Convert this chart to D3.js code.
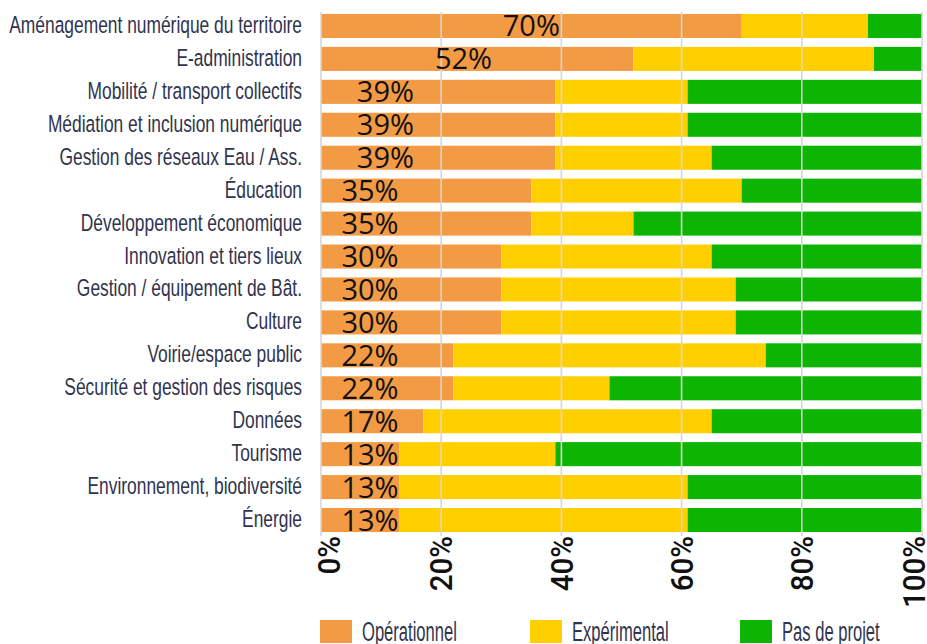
<!DOCTYPE html>
<html lang="fr">
<head>
<meta charset="utf-8">
<script src="https://cdn.jsdelivr.net/npm/d3@7"></script>
<style>
  html, body { margin: 0; padding: 0; background: #fff; }
  svg { display: block; }
</style>
</head>
<body>
<svg id="chart" width="927" height="644"></svg>
<script>
// Thematic areas and their project status shares (%)
const categories = [
  "Aménagement numérique du territoire",
  "E-administration",
  "Mobilité / transport collectifs",
  "Médiation et inclusion numérique",
  "Gestion des réseaux Eau / Ass.",
  "Éducation",
  "Développement économique",
  "Innovation et tiers lieux",
  "Gestion / équipement de Bât.",
  "Culture",
  "Voirie/espace public",
  "Sécurité et gestion des risques",
  "Données",
  "Tourisme",
  "Environnement, biodiversité",
  "Énergie"
];
const operationnel = [70, 52, 39, 39, 39, 35, 35, 30, 30, 30, 22, 22, 17, 13, 13, 13];
const experimental = [21, 40, 22, 22, 26, 35, 17, 35, 39, 39, 52, 26, 48, 26, 48, 48];
const pasDeProjet  = [ 9,  8, 39, 39, 35, 30, 48, 35, 31, 31, 26, 52, 35, 61, 39, 39];

const seriesNames  = ["Opérationnel", "Expérimental", "Pas de projet"];
const seriesColors = ["#F39A45", "#FFCF00", "#0DB502"];
const tickValues   = [0, 20, 40, 60, 80, 100];

const rows = categories.map((c, i) => ({
  cat: c,
  "Opérationnel": operationnel[i],
  "Expérimental": experimental[i],
  "Pas de projet": pasDeProjet[i]
}));

const svg = d3.select("#chart");
const x0 = 321, x1 = 922, yTop = 10, yBottom = 536;

const x = d3.scaleLinear().domain([0, 100]).range([x0, x1]);
const y = d3.scaleBand().domain(categories).range([yTop, yBottom])
  .paddingInner(0.27).paddingOuter(0.12);
const color = d3.scaleOrdinal().domain(seriesNames).range(seriesColors);

const stacked = d3.stack().keys(seriesNames)(rows);

// stacked bars
svg.append("g").selectAll("g").data(stacked).join("g")
  .attr("fill", d => color(d.key))
  .selectAll("rect").data(d => d).join("rect")
  .attr("x", d => x(d[0]))
  .attr("width", d => x(d[1]) - x(d[0]))
  .attr("y", d => y(d.data.cat))
  .attr("height", y.bandwidth());

// vertical gridlines drawn over the bars
svg.append("g").selectAll("line").data(tickValues).join("line")
  .attr("x1", d => x(d)).attr("x2", d => x(d))
  .attr("y1", 12).attr("y2", yBottom)
  .attr("stroke", "#d6d6d6").attr("stroke-width", 1.6);

// category labels (condensed)
const catFont = "'Liberation Sans Narrow', 'Liberation Sans', Arial, sans-serif";
const catG = svg.append("g");
const catTexts = catG.selectAll("text").data(categories).join("text")
  .attr("text-anchor", "end")
  .attr("font-family", catFont)
  .attr("font-size", 23.5)
  .attr("fill", "#30344e")
  .text(d => d);
const longest = d3.max(catTexts.nodes(), n => n.getComputedTextLength());
const catScale = 293 / longest;
catTexts.attr("transform", d => `translate(302,${y(d) + y.bandwidth() / 2 + 7}) scale(${catScale},1)`);

// value labels for the operational share
const valFont = "'Open Sans', 'Noto Sans', sans-serif";
svg.append("g").selectAll("text").data(rows).join("text")
  .attr("text-anchor", "middle")
  .attr("font-family", valFont)
  .attr("font-size", 29)
  .attr("fill", "#111")
  .attr("x", d => {
    const v = d["Opérationnel"];
    const mid = x(v / 2), end = x(v) - 170, minX = x0 + 49;
    return Math.max(minX, Math.min(mid, end));
  })
  .attr("y", d => y(d.cat) + y.bandwidth() / 2 + 10.5)
  .text(d => d["Opérationnel"] + "%");

// rotated axis tick labels
const tickFont = "Roboto, 'Liberation Sans', sans-serif";
const tickTexts = svg.append("g").selectAll("text").data(tickValues).join("text")
  .attr("text-anchor", "end")
  .attr("font-family", tickFont)
  .attr("font-weight", 500)
  .attr("font-size", 31)
  .attr("fill", "#111")
  .text(d => d + "%");
const tickLen = d3.max(tickTexts.nodes(), n => n.getComputedTextLength());
const tickScale = 72 / tickLen;
tickTexts.attr("transform", d => {
  const cx = Math.min(Math.max(x(d), x0 + 7.5), x1 - 8.5);
  return `translate(${cx + 11.2},536) rotate(-90) scale(${tickScale},1)`;
});

// legend
const legend = svg.append("g").selectAll("g").data(seriesNames).join("g")
  .attr("transform", (d, i) => `translate(${320 + i * 210},620)`);
legend.append("rect")
  .attr("width", 32).attr("height", 23)
  .attr("fill", d => color(d));
const legTexts = legend.append("text")
  .attr("font-family", catFont)
  .attr("font-size", 28)
  .attr("fill", "#30344e")
  .text(d => d);
const legLen = legTexts.nodes()[0].getComputedTextLength();
const legScale = 95 / legLen;
legTexts.attr("transform", `translate(42,20.5) scale(${legScale},1)`);
</script>
</body>
</html>
